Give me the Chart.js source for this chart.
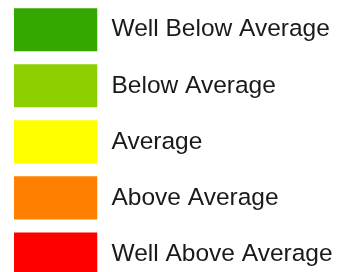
<!DOCTYPE html>
<html>
<head>
<meta charset="utf-8">
<script src="https://cdn.jsdelivr.net/npm/chart.js@4"></script>
<style>
html,body{margin:0;padding:0;background:#fff;overflow:hidden;width:339px;height:272px;}
canvas{display:block;}
</style>
</head>
<body>
<canvas id="c" width="339" height="282"></canvas>
<script>
const categories = ["Well Below Average", "Below Average", "Average", "Above Average", "Well Above Average"];
const values = [1, 1, 1, 1, 1];
const colors = ["#35A800", "#8CD000", "#FFFF00", "#FF8000", "#FF0000"];

new Chart(document.getElementById('c'), {
  type: 'bar',
  data: {
    labels: categories,
    datasets: [{
      data: values,
      backgroundColor: colors,
      borderWidth: 0,
      barPercentage: 1,
      categoryPercentage: 0.77
    }]
  },
  options: {
    indexAxis: 'y',
    responsive: false,
    animation: false,
    events: [],
    layout: { padding: { left: 14, right: 0, top: 1.7, bottom: 0 } },
    plugins: { legend: { display: false }, tooltip: { enabled: false } },
    scales: {
      x: { display: false, min: 0, max: 1 },
      y: {
        position: 'right',
        grid: { display: false, drawTicks: false },
        border: { display: false },
        afterFit: s => { s.width = 339 - 97.5; s.paddingTop = 0; s.paddingBottom = 0; },
        ticks: {
          autoSkip: false,
          maxRotation: 0,
          padding: 14,
          color: '#1a1a1a',
          font: { family: "'Liberation Sans', Arial, sans-serif", size: 24.5 }
        }
      }
    }
  }
});
</script>
</body>
</html>
